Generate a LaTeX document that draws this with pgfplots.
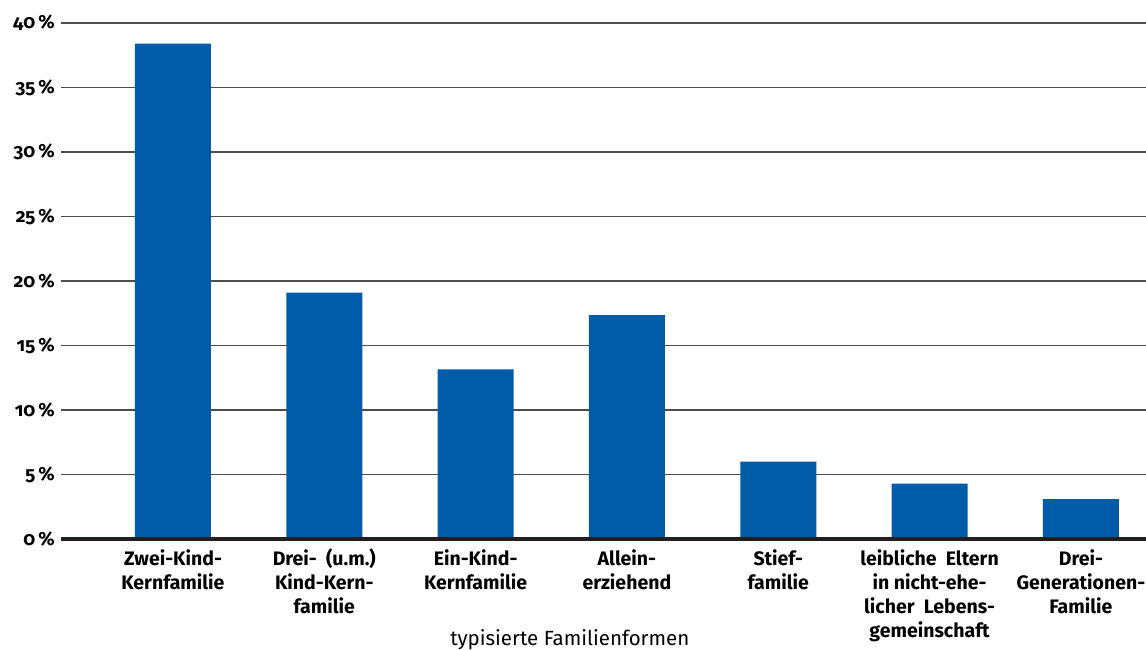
\documentclass[border=0pt]{standalone}
\usepackage{fontspec}
\setmainfont{Fira Sans}[Numbers=OldStyle]
\usepackage{pgfplots}
\pgfplotsset{compat=1.18}
\definecolor{barblue}{HTML}{005CA9}
\definecolor{gridgray}{HTML}{4D4D4D}
\definecolor{baseblack}{HTML}{231F20}
\begin{document}
\begin{tikzpicture}[x=1bp,y=1bp]
\path[use as bounding box] (0,0) rectangle (1146,650);
\begin{axis}[
  at={(61bp,111bp)}, anchor=south west,
  scale only axis, width=1085bp, height=516bp,
  xmin=-0.74, xmax=6.43, ymin=0, ymax=40,
  axis line style={draw=none},
  ytick={0,5,...,40}, xtick={0,1,2,3,4,5,6},
  major tick length=0pt,
  ymajorgrids, grid style={gridgray, line width=1.5bp},
  /pgf/number format/assume math mode=true,
  yticklabel={\addfontfeatures{Numbers=OldStyle}\pgfmathprintnumber{\tick}\,\%},
  yticklabel style={font=\fontsize{19bp}{22bp}\selectfont\bfseries, inner sep=0pt, xshift=-6bp},
  xticklabels={{Zwei-Kind-\\Kernfamilie},{Drei-\ \ (u.m.)\\Kind-Kern-\\familie},{Ein-Kind-\\Kernfamilie},{Allein-\\erziehend},{Stief-\\familie},{leibliche\ \ Eltern\\in nicht-ehe-\\licher\ \ Lebens-\\gemeinschaft},{Drei-\\Generationen-\\Familie}},
  xticklabel style={font=\fontsize{19.5bp}{24bp}\selectfont\bfseries, align=center, anchor=north, inner sep=0pt, yshift=-10bp},
  xlabel={typisierte Familienformen},
  xlabel style={font=\fontsize{20.5bp}{24bp}\selectfont, at={(axis description cs:0.469,0)}, anchor=base, yshift=-107bp, inner sep=0pt},
  clip=false,
]
\addplot[ybar, bar width=76bp, fill=barblue, draw=none] coordinates {
  (0,38.4) (1,19.1) (2,13.15) (3,17.35) (4,6.0) (5,4.3) (6,3.1)
};
\draw[baseblack, line width=3.5bp] (rel axis cs:0,0) -- (rel axis cs:1,0);
\end{axis}
\end{tikzpicture}
\end{document}
